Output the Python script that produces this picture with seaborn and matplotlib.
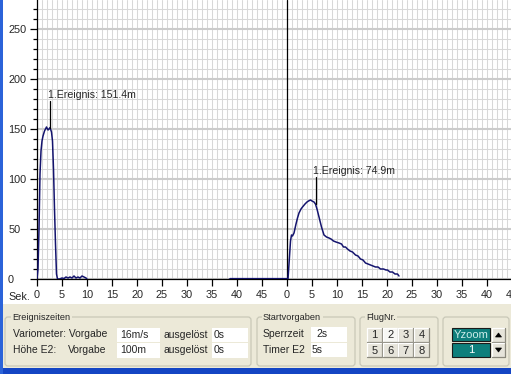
"""
Flight log screen: height over time for two flights,
with the control panel below the chart.
Saves the output as out.png
"""

# Import required packages
import numpy as np
import pandas as pd
import matplotlib

matplotlib.use("Agg")
import matplotlib.pyplot as plt
import seaborn as sns
from matplotlib.patches import Rectangle, FancyBboxPatch, Polygon

# ------------------------------#
# Data read from the screen

# Flight 1 (seconds, metres)
flight1_sec = [0, 0.2, 0.4, 0.6, 0.8, 1.0, 1.2, 1.5, 1.9, 2.2, 2.4, 2.6, 2.9,
               3.1, 3.3, 3.5, 3.7, 3.9, 4.1, 4.5, 5.0, 5.4, 5.8, 6.2, 6.6,
               7.0, 7.4, 7.8, 8.2, 8.6, 9.0, 9.4, 9.8, 10.0]
flight1_height = [0, 10, 50, 105, 128, 138, 143, 148, 152, 149, 150, 151.4, 147,
                  138, 110, 70, 35, 5, 0, 0, 1, 0.5, 2, 1, 2, 1, 3, 1, 2, 1,
                  3, 2, 1, 0]

# Flight 2 (seconds relative to its own start, metres)
flight2_sec = [-11.5, 0, 0.2, 0.4, 0.7, 0.9, 1.1, 1.4, 1.8, 2.1, 2.4, 2.8,
               3.1, 3.6, 4.0, 4.3, 4.7, 5.0, 5.4, 5.7, 6.0, 6.4, 6.9, 7.4,
               7.9, 8.4, 8.8, 9.3, 9.8, 10.4, 10.9, 11.3, 11.7, 12.1, 12.6,
               13.1, 13.7, 14.2, 14.7, 15.2, 15.7, 16.2, 16.7, 17.2, 17.7,
               18.2, 18.7, 19.3, 19.8, 20.1, 20.6, 21.1, 21.6, 22.1, 22.4]
flight2_height = [0, 0, 0, 15, 38, 44, 43, 46, 55, 61, 66, 70, 72, 75, 77,
                  78, 79, 78, 77, 74.9, 70, 62, 52, 44, 42, 41, 40, 38, 37,
                  36, 35, 32, 32, 30, 28, 27, 24, 23, 20, 19, 16, 15, 14, 13,
                  12, 12, 10, 10, 9, 9, 7, 7, 5, 5, 3]
flight2_offset = 50  # second flight is drawn after 50 s on the same axis

# Events (seconds, metres, label)
event_sec = [2.6, 55.7]
event_height = [151.4, 74.9]
event_labels = ["1.Ereignis: 151.4m", "1.Ereignis: 74.9m"]

# Axis ticks
sec_ticks = list(range(0, 100, 5))
sec_labels = [str(v % 50) for v in sec_ticks]
height_ticks = [0, 50, 100, 150, 200, 250]

# Panel texts
vorgabe_values = ["16m/s", "100m"]
ausgeloest_values = ["0s", "0s"]
start_values = ["2s", "5s"]
flug_buttons = ["1", "2", "3", "4", "5", "6", "7", "8"]

# ------------------------------#
# Global settings
W, H = 511, 374
line_color = "#14146E"
grid_color = "#D8D8D8"
panel_color = "#ECE9D8"

sns.set_style("white")
plt.rcParams["font.family"] = ["Liberation Sans", "DejaVu Sans"]

fig = plt.figure(figsize=(W / 100, H / 100), dpi=100)
fig.patch.set_facecolor("white")

# ------------------------------#
# Window background and control panel (pixel coordinates)
bg = fig.add_axes([0, 0, 1, 1], zorder=0)
bg.set_xlim(0, W)
bg.set_ylim(H, 0)
bg.axis("off")

bg.add_patch(Rectangle((0, 304), W, 64, fc=panel_color, ec="none"))
bg.add_patch(Rectangle((0, 368), W, 6, fc="#1445C4", ec="none"))
bg.add_patch(Rectangle((0, 0), 3, H, fc="#2B63D9", ec="none"))


def group_box(x0, x1, title, tx):
    bg.add_patch(FancyBboxPatch((x0, 317), x1 - x0, 49,
                                boxstyle="round,pad=0,rounding_size=3",
                                fc="none", ec="#C9C8B8", lw=0.9))
    if title:
        bg.text(tx, 317, title, fontsize=6.6, va="center", ha="left",
                bbox=dict(fc=panel_color, ec="none", pad=1))


def field(x0, x1, y0, y1, text, tx):
    bg.add_patch(Rectangle((x0, y0), x1 - x0, y1 - y0, fc="white", ec="none"))
    bg.text(tx, (y0 + y1) / 2, text, fontsize=7.5, va="center", ha="left")


def button(x0, y0, w, h, text, face="#E6E4DA"):
    bg.add_patch(Rectangle((x0, y0), w, h, fc=face, ec="none"))
    bg.plot([x0, x0, x0 + w], [y0 + h, y0, y0], color="white", lw=0.9)
    bg.plot([x0, x0 + w, x0 + w], [y0 + h, y0 + h, y0], color="#8A887C", lw=0.9)
    if text:
        bg.text(x0 + w / 2, y0 + h / 2 + 0.5, text, fontsize=8,
                va="center", ha="center")


# Ereigniszeiten
group_box(5, 251, "Ereigniszeiten", 12)
bg.text(13, 334, "Variometer: Vorgabe", fontsize=7.5, va="center")
bg.text(13, 350, "Höhe E2:", fontsize=7.5, va="center")
bg.text(68, 350, "Vorgabe", fontsize=7.5, va="center")
for i, (vv, av) in enumerate(zip(vorgabe_values, ausgeloest_values)):
    y0 = 327.5 + i * 15.5
    field(117, 160, y0, y0 + 14.5, vv, 120)
    bg.text(163, y0 + 7.2, "ausgelöst", fontsize=7.5, va="center")
    field(212, 248, y0, y0 + 14.5, av, 214)

# Startvorgaben
group_box(257, 355, "Startvorgaben", 263)
bg.text(263, 334, "Sperrzeit", fontsize=7.5, va="center")
bg.text(263, 350, "Timer E2", fontsize=7.5, va="center")
field(311, 347, 326.5, 341.5, start_values[0], 316)
field(311, 347, 342.5, 357, start_values[1], 312)

# FlugNr.
group_box(360, 438, "FlugNr.", 366)
for i, lab in enumerate(flug_buttons):
    col, row = i % 4, i // 4
    face = "#F7F7F4" if lab == "2" else "#E6E4DA"
    button(367 + col * 15.7, 327.5 + row * 15.5, 15, 14, lab, face)

# Yzoom
group_box(443, 509, "", 0)
bg.add_patch(Rectangle((452, 327.5), 38, 13.5, fc="#0E7F7C", ec="#1A1A1A", lw=0.8))
bg.text(471, 334.5, "Yzoom", fontsize=8, va="center", ha="center", color="#CDEDEA")
bg.add_patch(Rectangle((452, 343), 38, 13.5, fc="#0E7F7C", ec="#1A1A1A", lw=0.8))
bg.text(471, 350, "1", fontsize=8, va="center", ha="center", color="white")
button(492, 327.5, 13, 14, "")
button(492, 343, 13, 14, "")
bg.add_patch(Polygon([[495.5, 337], [501.5, 337], [498.5, 333]], fc="black",
                     ec="black", lw=0.5, zorder=3))
bg.add_patch(Polygon([[495.5, 348], [501.5, 348], [498.5, 352]], fc="black",
                     ec="black", lw=0.5, zorder=3))

# ------------------------------#
# Height chart
ax = fig.add_axes([37 / W, 1 - 279 / H, 475 / W, 279 / H], zorder=1)
ax.set_facecolor("white")

f1 = pd.DataFrame({"sec": flight1_sec, "height": flight1_height})
f2 = pd.DataFrame({"sec": flight2_sec, "height": flight2_height})
f2["sec"] = f2["sec"] + flight2_offset

sns.lineplot(data=f1, x="sec", y="height", ax=ax, color=line_color, lw=1.1,
             estimator=None, sort=False, zorder=4)
sns.lineplot(data=f2, x="sec", y="height", ax=ax, color=line_color, lw=1.1,
             estimator=None, sort=False, zorder=4)
# ground segment before second flight is drawn bolder
ax.plot([f2["sec"].iloc[0], f2["sec"].iloc[2]], [0.5, 0.5], color=line_color,
        lw=1.6, zorder=4, solid_capstyle="butt")

# divider between the two flights
ax.axvline(flight2_offset, color="black", lw=0.9, zorder=3)

# event markers
for es, eh, el in zip(event_sec, event_height, event_labels):
    ax.plot([es, es], [eh, eh + 27], color="black", lw=0.9, zorder=5)
    ax.text(es - 0.45, eh + 33, el, fontsize=7.6, va="center", ha="left", zorder=5)

ax.set_xlim(0, 95)
ax.set_ylim(0, 279)

ax.set_xticks(sec_ticks)
ax.set_xticklabels(sec_labels)
ax.set_xticks(np.arange(0, 96, 1), minor=True)
ax.set_yticks(height_ticks)
ax.set_yticks(np.arange(0, 280, 10), minor=True)

ax.grid(True, which="both", axis="x", color=grid_color, lw=0.75, zorder=0)
ax.grid(True, which="minor", axis="y", color=grid_color, lw=0.75, zorder=0)
ax.grid(True, which="major", axis="y", color="#CBCBCB", lw=1.5, zorder=0)
ax.set_axisbelow(True)

ax.tick_params(axis="x", which="major", length=5, width=0.9, color="black",
               direction="out", pad=3.2, labelsize=7.8, bottom=True)
ax.tick_params(axis="x", which="minor", length=0)
ax.tick_params(axis="y", which="major", length=5, width=0.9, color="black",
               direction="out", pad=15.8, labelsize=7.8, left=True)
ax.tick_params(axis="y", which="minor", length=2.9, width=0.9, color="black",
               direction="out", left=True)
for lbl in ax.get_yticklabels():
    lbl.set_horizontalalignment("left")

for side in ["top", "right"]:
    ax.spines[side].set_visible(False)
for side in ["left", "bottom"]:
    ax.spines[side].set_color("black")
    ax.spines[side].set_linewidth(0.9)

ax.set_xlabel("")
ax.set_ylabel("")
bg.text(8, 297, "Sek.", fontsize=7.8, va="center", ha="left")

fig.savefig("out.png", dpi=100)
